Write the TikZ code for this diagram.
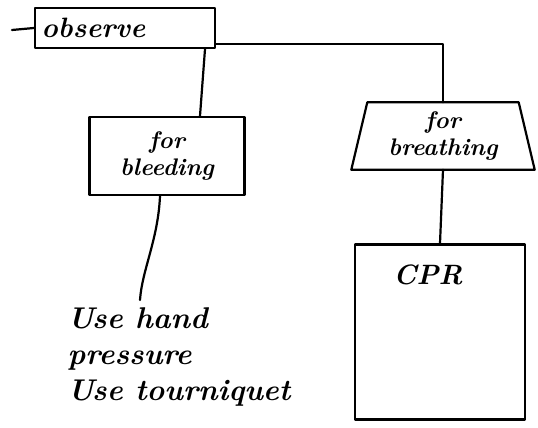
\documentclass[tikz,border=0pt]{standalone}
\usepackage{fontspec}
\begin{document}
\begin{tikzpicture}[x=1pt,y=-1pt,
  ink/.style={line width=2.2pt,line join=round,line cap=round},
  hand/.style={font=\fontsize{24}{27}\selectfont\bfseries\itshape,align=center},
  boxnode/.style={ink,draw,rectangle,inner sep=0pt}]
\useasboundingbox (0,0) rectangle (538,428);
% boxes
\node[boxnode,minimum width=180pt,minimum height=40pt] (obs) at (125,28) {};
\node[hand,anchor=west,font=\fontsize{28}{30}\selectfont\bfseries\itshape] (obst) at ([xshift=4pt]obs.west) {observe};
\node[boxnode,minimum width=155pt,minimum height=78pt] (bl) at (167,156) {};
\node[hand] (blt) at (bl.center) {for\\bleeding};
\node[hand,minimum width=183pt,minimum height=67pt,inner sep=0pt] (br) at (443,136) {for\\breathing};
\draw[ink] ([xshift=16pt]br.north west) -- ([xshift=-16pt]br.north east) -- (br.south east) -- (br.south west) -- cycle;
\node[boxnode,minimum width=170pt,minimum height=175pt] (cpr) at (440,332) {};
\node[hand,anchor=north,font=\fontsize{28}{30}\selectfont\bfseries\itshape] (cprt) at ([yshift=-18pt,xshift=-12pt]cpr.north) {CPR};
\node[hand,align=left,anchor=north west,font=\fontsize{30}{36}\selectfont\bfseries\itshape] (act) at (64,304)
  {Use hand\\pressure\\Use tourniquet};
\coordinate (e) at (140,300);
% connectors
\draw[ink] (obs.west) -- ++(-22,2);
\draw[ink] ([yshift=5pt]obs.south east) -| (br.north);
\draw[ink] ([xshift=80pt]obs.south) -- ([xshift=33pt]bl.north);
\draw[ink] (br.south) -- (cpr.north);
\draw[ink] ([xshift=-7pt]bl.south) .. controls (158,240) and (142,270) .. (e);
\end{tikzpicture}
\end{document}
